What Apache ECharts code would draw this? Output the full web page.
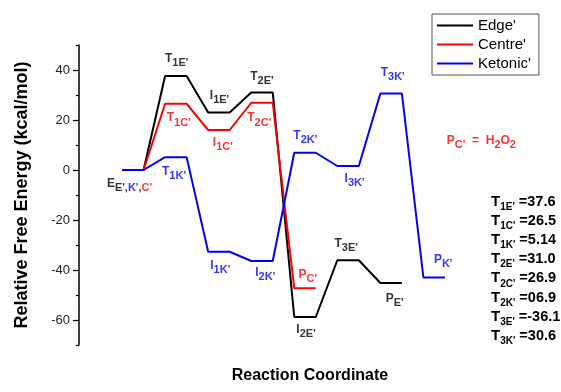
<!DOCTYPE html>
<html><head><meta charset="utf-8">
<script src="https://cdn.jsdelivr.net/npm/echarts@6/dist/echarts.min.js"></script>
<style>html,body{margin:0;padding:0;background:#fff}#c{width:561px;height:392px}</style>
</head><body><div id="c"></div>
<script>
// ---- data ----
const edgeX = [0,1,2,3,4,5,6,7,8,9,10,11,12,13];
const edgeY = [0,0,37.6,37.6,23,23,31,31,-58.8,-58.8,-36.1,-36.1,-45.2,-45.2];
const centreX = [0,1,2,3,4,5,6,7,8,9];
const centreY = [0,0,26.5,26.5,16,16,26.9,26.9,-47.3,-47.3];
const ketonicX = [0,1,2,3,4,5,6,7,8,9,10,11,12,13,14,15];
const ketonicY = [0,0,5.14,5.14,-32.7,-32.7,-36.4,-36.4,6.9,6.9,1.6,1.6,30.6,30.6,-43,-43];
const yMajorTicks = [-60,-40,-20,0,20,40];
const yMinorTicks = [-70,-50,-30,-10,10,30,50];
const seriesNames = ["Edge'", "Centre'", "Ketonic'"];
const barrierSubs = ["1E'","1C'","1K'","2E'","2C'","2K'","3E'","3K'"];
const barrierValues = ["37.6","26.5","5.14","31.0","26.9","06.9","-36.1","30.6"];
const barrierKinds = ["k","r","b","k","r","b","k","b"];

const BLACK = '#000000', RED = '#ff0000', BLUE = '#0000ff';
const FONT = "'Liberation Sans', Arial, Helvetica, sans-serif";

// annotation labels (anchor = top-left of label, in data coords)
const annotations = [
  {x:2.02, y:46.8, t:"{m|T}{s|1E'}", c:BLACK},
  {x:5.98, y:39.6, t:"{m|T}{s|2E'}", c:BLACK},
  {x:4.10, y:32.0, t:"{m|I}{s|1E'}", c:BLACK},
  {x:2.10, y:23.0, t:"{m|T}{s|1C'}", c:RED},
  {x:5.84, y:23.0, t:"{m|T}{s|2C'}", c:RED},
  {x:4.24, y:13.2, t:"{m|I}{s|1C'}", c:RED},
  {x:1.88, y:1.6,  t:"{m|T}{s|1K'}", c:BLUE},
  {x:-0.68, y:-3.2, t:"{m|E}{s|E',}{sb|K'}{s|,}{sr|C'}", c:BLACK},
  {x:4.12, y:-36,  t:"{m|I}{s|1K'}", c:BLUE},
  {x:6.21, y:-38.8, t:"{m|I}{s|2K'}", c:BLUE},
  {x:7.98, y:16,   t:"{m|T}{s|2K'}", c:BLUE},
  {x:10.36, y:-1.2, t:"{m|I}{s|3K'}", c:BLUE},
  {x:12.04, y:41.2, t:"{m|T}{s|3K'}", c:BLUE},
  {x:15.11, y:14,  t:"{m|P}{s|C'}{m|  =  H}{s|2}{m|O}{s|2}", c:RED},
  {x:8.22, y:-39.6, t:"{m|P}{s|C'}", c:RED},
  {x:9.89, y:-27.2, t:"{m|T}{s|3E'}", c:BLACK},
  {x:12.27, y:-49.2, t:"{m|P}{s|E'}", c:BLACK},
  {x:8.12, y:-61.6, t:"{m|I}{s|2E'}", c:BLACK},
  {x:14.51, y:-33.6, t:"{m|P}{s|K'}", c:BLUE}
];

const pairs = (xs, ys) => xs.map((x, i) => [x, ys[i]]);

const colorOf = {k: BLACK, r: RED, b: BLUE};
const listRich = {};
['k','r','b'].forEach(k => {
  listRich['m'+k] = {fontSize:15, fontWeight:'bold', color:colorOf[k], lineHeight:19.2, verticalAlign:'top', fontFamily:FONT};
  listRich['s'+k] = {fontSize:10, fontWeight:'bold', color:colorOf[k], lineHeight:10, padding:[8,0,0,0], verticalAlign:'top', fontFamily:FONT};
  listRich['v'+k] = {fontSize:14.5, fontWeight:'bold', color:colorOf[k], lineHeight:19.2, verticalAlign:'top', fontFamily:FONT};
});
const listText = barrierSubs.map((s, i) => {
  const k = barrierKinds[i];
  return '{m'+k+'|T}{s'+k+'|'+s+'}{v'+k+'| =' + barrierValues[i] + '}';
}).join('\n');

const chart = echarts.init(document.getElementById('c'), null, {renderer:'canvas'});
chart.setOption({
  animation: false,
  backgroundColor: '#fff',
  textStyle: {fontFamily: FONT},
  grid: {left: 79, top: 45, width: 409, height: 300},
  xAxis: {type: 'value', min: -2, max: 17, show: false},
  yAxis: [{
    type: 'value', min: -70, max: 50, interval: 10,
    axisLine: {show: true, onZero: false, lineStyle: {color: '#000', width: 1.5}},
    axisTick: {show: true, customValues: yMajorTicks, length: 6, lineStyle: {color: '#000', width: 1.2}},
    axisLabel: {customValues: yMajorTicks, fontSize: 13, color: '#222', margin: 9, fontFamily: FONT},
    splitLine: {show: false},
    name: 'Relative Free Energy (kcal/mol)', nameLocation: 'middle', nameGap: 48,
    nameTextStyle: {fontSize: 18, fontWeight: 'bold', color: '#000', fontFamily: FONT}
  }, {
    type: 'value', min: -70, max: 50, interval: 10, position: 'left',
    axisLine: {show: false, onZero: false},
    axisTick: {show: true, customValues: yMinorTicks, length: 3, lineStyle: {color: '#000', width: 1.2}},
    axisLabel: {show: false},
    splitLine: {show: false}
  }],
  legend: {
    data: seriesNames, orient: 'vertical', left: 432, top: 14,
    borderColor: '#555', borderWidth: 1, padding: [3, 8, 3, 5],
    icon: 'rect', itemWidth: 36, itemHeight: 2, itemGap: 2,
    textStyle: {fontSize: 15, color: '#000', lineHeight: 17, fontFamily: FONT}
  },
  series: [
    {name: seriesNames[0], type: 'line', data: pairs(edgeX, edgeY), symbol: 'none', lineStyle: {color: BLACK, width: 2}, itemStyle: {color: BLACK}},
    {name: seriesNames[1], type: 'line', data: pairs(centreX, centreY), symbol: 'none', lineStyle: {color: RED, width: 2}, itemStyle: {color: RED}},
    {name: seriesNames[2], type: 'line', data: pairs(ketonicX, ketonicY), symbol: 'none', lineStyle: {color: BLUE, width: 2}, itemStyle: {color: BLUE}},
    {
      name: 'labels', type: 'scatter', symbolSize: 1, clip: false, silent: true,
      itemStyle: {color: 'transparent'},
      data: annotations.map(a => ({
        value: [a.x, a.y],
        label: {show: true, formatter: a.t, color: a.c}
      })),
      label: {
        show: true, position: [0, 0], align: 'left', verticalAlign: 'top', fontFamily: FONT,
        rich: {
          m: {fontSize: 12, fontWeight: 'bold', lineHeight: 12, verticalAlign: 'top', fontFamily: FONT},
          s: {fontSize: 11, fontWeight: 'bold', lineHeight: 11, padding: [5, 0, 0, 0], verticalAlign: 'top', fontFamily: FONT},
          sb: {fontSize: 11, fontWeight: 'bold', lineHeight: 11, padding: [5, 0, 0, 0], verticalAlign: 'top', color: BLUE, fontFamily: FONT},
          sr: {fontSize: 11, fontWeight: 'bold', lineHeight: 11, padding: [5, 0, 0, 0], verticalAlign: 'top', color: RED, fontFamily: FONT}
        }
      }
    }
  ],
  graphic: [
    {type: 'text', x: 491, y: 194, silent: true,
     style: {text: listText, rich: listRich, fontFamily: FONT, align: 'left', verticalAlign: 'top'}},
    {type: 'text', x: 310, y: 368, silent: true,
     style: {text: 'Reaction Coordinate', fill: '#000', font: "bold 16px " + FONT, align: 'center', verticalAlign: 'top'}}
  ]
});
</script></body></html>
